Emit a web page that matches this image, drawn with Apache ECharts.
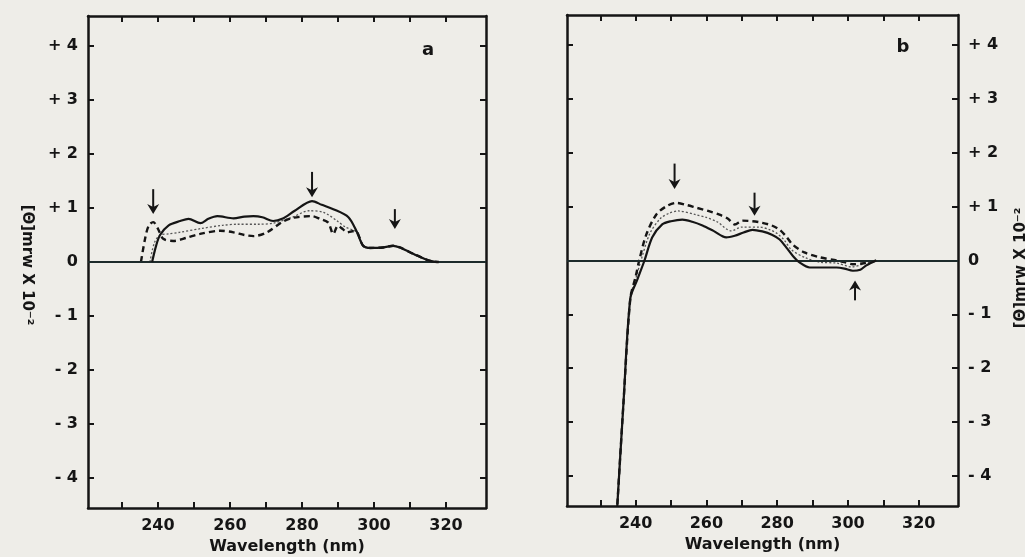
<!DOCTYPE html>
<html>
<head>
<meta charset="utf-8">
<script src="https://cdn.jsdelivr.net/npm/echarts@6/dist/echarts.min.js"></script>
<style>
  html, body { margin: 0; padding: 0; background: #eeede8; }
  #main { width: 1025px; height: 557px; }
</style>
</head>
<body>
<div id="main"></div>
<script>
// axis ticks and labels
var xTicks = [230, 240, 250, 260, 270, 280, 290, 300, 310, 320];
var xLabels = [240, 260, 280, 300, 320];
var yTicks = [-4, -3, -2, -1, 0, 1, 2, 3, 4];
var yLabels = ['- 4', '- 3', '- 2', '- 1', '0', '+ 1', '+ 2', '+ 3', '+ 4'];

// panel a
var aSolidX = [238.4, 239.5, 240.6, 243, 246.2, 248.5, 251.8, 254, 256.5, 261, 264, 266.5, 269, 272, 274.5, 278, 282.8, 285.5, 288.7, 292.9, 295.3, 297, 299, 302.6, 305.3, 307.2, 311, 315.6, 318];
var aSolidY = [0, 0.3, 0.5, 0.68, 0.76, 0.8, 0.72, 0.8, 0.85, 0.81, 0.84, 0.85, 0.83, 0.76, 0.8, 0.95, 1.13, 1.06, 0.98, 0.83, 0.55, 0.3, 0.26, 0.27, 0.3, 0.27, 0.15, 0.02, 0];
var aDashX = [235.3, 236.5, 237.5, 238.7, 240, 241.5, 244.3, 248, 251.7, 257.3, 261, 264, 266.6, 270.3, 274.5, 277.6, 282.8, 285, 287.3, 288.7, 290, 291.5, 292.5, 294, 295.3, 297, 299, 302.6, 305.3, 307.2, 311, 315.6, 318];
var aDashY = [0, 0.45, 0.68, 0.74, 0.62, 0.43, 0.39, 0.45, 0.52, 0.58, 0.55, 0.5, 0.48, 0.55, 0.74, 0.82, 0.85, 0.8, 0.73, 0.52, 0.67, 0.6, 0.55, 0.57, 0.55, 0.3, 0.26, 0.27, 0.3, 0.27, 0.15, 0.02, 0];
var aDotX = [237.8, 239, 240.6, 243, 246, 252, 258, 262, 268, 272, 277, 282, 286, 290, 292, 295.3, 297, 299, 302.6, 305.3, 307.2, 311, 315.6, 318];
var aDotY = [0, 0.35, 0.5, 0.52, 0.55, 0.62, 0.68, 0.7, 0.7, 0.72, 0.82, 0.95, 0.92, 0.75, 0.65, 0.55, 0.3, 0.26, 0.27, 0.3, 0.27, 0.15, 0.02, 0];
var aArrowX = [238.7, 282.8, 305.8];
var aArrowTip = [0.89, 1.2, 0.61];
var aArrowTail = [1.35, 1.67, 0.98];

// panel b
var bSolidX = [234.5, 236.6, 238.5, 240.5, 242.5, 244.7, 247.5, 250, 253.2, 256, 258.9, 262, 265.6, 268, 270.5, 273, 275.8, 278.5, 280.7, 282.6, 284.5, 286.4, 289.2, 293, 296.8, 299, 301.4, 303.5, 305.2, 308];
var bSolidY = [-4.9, -2.6, -0.7, -0.35, 0, 0.43, 0.67, 0.73, 0.76, 0.72, 0.65, 0.55, 0.43, 0.46, 0.52, 0.57, 0.54, 0.48, 0.39, 0.24, 0.08, -0.04, -0.13, -0.13, -0.13, -0.15, -0.19, -0.17, -0.09, 0];
var bDashX = [234.5, 236.6, 238.5, 240, 241, 243, 245.8, 248.5, 251.5, 254.5, 257.2, 260.5, 263.7, 266, 268, 270.2, 273, 275.8, 278.5, 280.7, 282.5, 284.3, 287.7, 292, 296.8, 299, 301.4, 304.5, 308];
var bDashY = [-4.9, -2.6, -0.7, -0.3, 0, 0.48, 0.85, 1.0, 1.07, 1.03, 0.98, 0.92, 0.85, 0.78, 0.67, 0.74, 0.73, 0.7, 0.65, 0.57, 0.45, 0.3, 0.15, 0.06, 0, -0.03, -0.07, -0.05, 0];
var bDotX = [234.5, 236.6, 238.5, 240.2, 241.5, 244, 247, 249.5, 252, 257, 260, 263, 267, 270, 275, 278, 280, 282, 284, 288, 292, 297, 301, 305, 308];
var bDotY = [-4.9, -2.6, -0.7, -0.3, 0, 0.5, 0.78, 0.88, 0.92, 0.85, 0.8, 0.72, 0.55, 0.62, 0.62, 0.57, 0.5, 0.38, 0.2, 0.05, -0.03, -0.05, -0.12, -0.05, 0];
var bArrowX = [251, 273.6, 302];
var bArrowTip = [1.33, 0.83, -0.37];
var bArrowTail = [1.8, 1.26, -0.74];

var FONT = 'DejaVu Sans';
var INK = '#151515';

function zip(xs, ys) {
    return xs.map(function (x, i) { return [x, ys[i]]; });
}
function zip3(xs, a, b) {
    return xs.map(function (x, i) { return [x, a[i], b[i]]; });
}

function renderArrow(params, api) {
    var tip = api.coord([api.value(0), api.value(1)]);
    var tail = api.coord([api.value(0), api.value(2)]);
    var s = tail[1] < tip[1] ? -1 : 1;
    return {
        type: 'group',
        children: [
            {type: 'line', shape: {x1: tip[0], y1: tip[1] + s * 4, x2: tail[0], y2: tail[1]},
             style: {stroke: INK, lineWidth: 2}},
            {type: 'polygon', shape: {points: [[tip[0], tip[1]], [tip[0] - 6, tip[1] + s * 10], [tip[0], tip[1] + s * 7], [tip[0] + 6, tip[1] + s * 10]]},
             style: {fill: INK}}
        ]
    };
}

function xAx(grid, pos, withLabels) {
    return {
        type: 'value', gridIndex: grid, position: pos, min: 220.6, max: 331.1,
        splitLine: {show: false},
        axisLine: {show: true, onZero: false, lineStyle: {color: INK, width: 2.5}},
        axisTick: {show: true, inside: true, length: 6, customValues: xTicks, lineStyle: {color: INK, width: 2}},
        axisLabel: {show: withLabels, customValues: xLabels, margin: 10, color: INK,
                    fontFamily: FONT, fontWeight: 'bold', fontSize: 16},
        name: withLabels ? 'Wavelength (nm)' : '', nameLocation: 'middle', nameGap: 31,
        nameTextStyle: {color: INK, fontFamily: FONT, fontWeight: 'bold', fontSize: 16}
    };
}

function yAx(grid, pos, withLabels) {
    return {
        type: 'value', gridIndex: grid, position: pos, min: -4.56, max: 4.56,
        splitLine: {show: false},
        axisLine: {show: true, onZero: false, lineStyle: {color: INK, width: 2.5}},
        axisTick: {show: true, inside: true, length: 6, customValues: yTicks, lineStyle: {color: INK, width: 2}},
        axisLabel: {show: withLabels, customValues: yTicks, margin: 10, color: INK,
                    fontFamily: FONT, fontWeight: 'bold', fontSize: 16,
                    formatter: function (v) { return yLabels[yTicks.indexOf(Math.round(v))]; }}
    };
}

function curves(idx, solid, dash, dot, arrows) {
    return [
        {type: 'line', xAxisIndex: idx * 2, yAxisIndex: idx * 2, data: dot, symbol: 'none', smooth: 0.3,
         lineStyle: {color: '#555', width: 1.3, type: [2, 2]}, z: 3},
        {type: 'line', xAxisIndex: idx * 2, yAxisIndex: idx * 2, data: dash, symbol: 'none', smooth: 0.3,
         lineStyle: {color: INK, width: 2.4, type: [6, 4]}, z: 4},
        {type: 'line', xAxisIndex: idx * 2, yAxisIndex: idx * 2, data: solid, symbol: 'none', smooth: 0.3,
         lineStyle: {color: INK, width: 2.2}, z: 5,
         markLine: {silent: true, symbol: 'none', label: {show: false},
                    lineStyle: {color: '#1d2b2b', width: 2, type: 'solid'},
                    data: [{yAxis: 0}]}},
        {type: 'custom', xAxisIndex: idx * 2, yAxisIndex: idx * 2, data: arrows,
         renderItem: renderArrow, encode: {x: 0, y: [1, 2]}, z: 6}
    ];
}

var chart = echarts.init(document.getElementById('main'));
chart.setOption({
    backgroundColor: '#eeede8',
    animation: false,
    grid: [
        {left: 88, top: 16, width: 398, height: 492, outerBoundsMode: 'none', containLabel: false},
        {left: 567, top: 15, width: 391, height: 491, outerBoundsMode: 'none', containLabel: false}
    ],
    xAxis: [xAx(0, 'bottom', true), xAx(0, 'top', false), xAx(1, 'bottom', true), xAx(1, 'top', false)],
    yAxis: [yAx(0, 'left', true), yAx(0, 'right', false), yAx(1, 'right', true), yAx(1, 'left', false)],
    series: [].concat(
        curves(0, zip(aSolidX, aSolidY), zip(aDashX, aDashY), zip(aDotX, aDotY), zip3(aArrowX, aArrowTip, aArrowTail)),
        curves(1, zip(bSolidX, bSolidY), zip(bDashX, bDashY), zip(bDotX, bDotY), zip3(bArrowX, bArrowTip, bArrowTail))
    ),
    graphic: [
        {type: 'text', x: 428, y: 50, style: {text: 'a', fill: INK, font: 'bold 18px ' + FONT, align: 'center', verticalAlign: 'middle'}},
        {type: 'text', x: 903, y: 47, style: {text: 'b', fill: INK, font: 'bold 18px ' + FONT, align: 'center', verticalAlign: 'middle'}},
        {type: 'text', x: 27, y: 265, rotation: -Math.PI / 2,
         style: {text: '[Θ]mrw X 10⁻²', fill: INK, font: 'bold 15px ' + FONT, align: 'center', verticalAlign: 'middle'}},
        {type: 'text', x: 1021, y: 268, rotation: Math.PI / 2,
         style: {text: '[Θ]mrw X 10⁻²', fill: INK, font: 'bold 15px ' + FONT, align: 'center', verticalAlign: 'middle'}}
    ]
});
</script>
</body>
</html>
